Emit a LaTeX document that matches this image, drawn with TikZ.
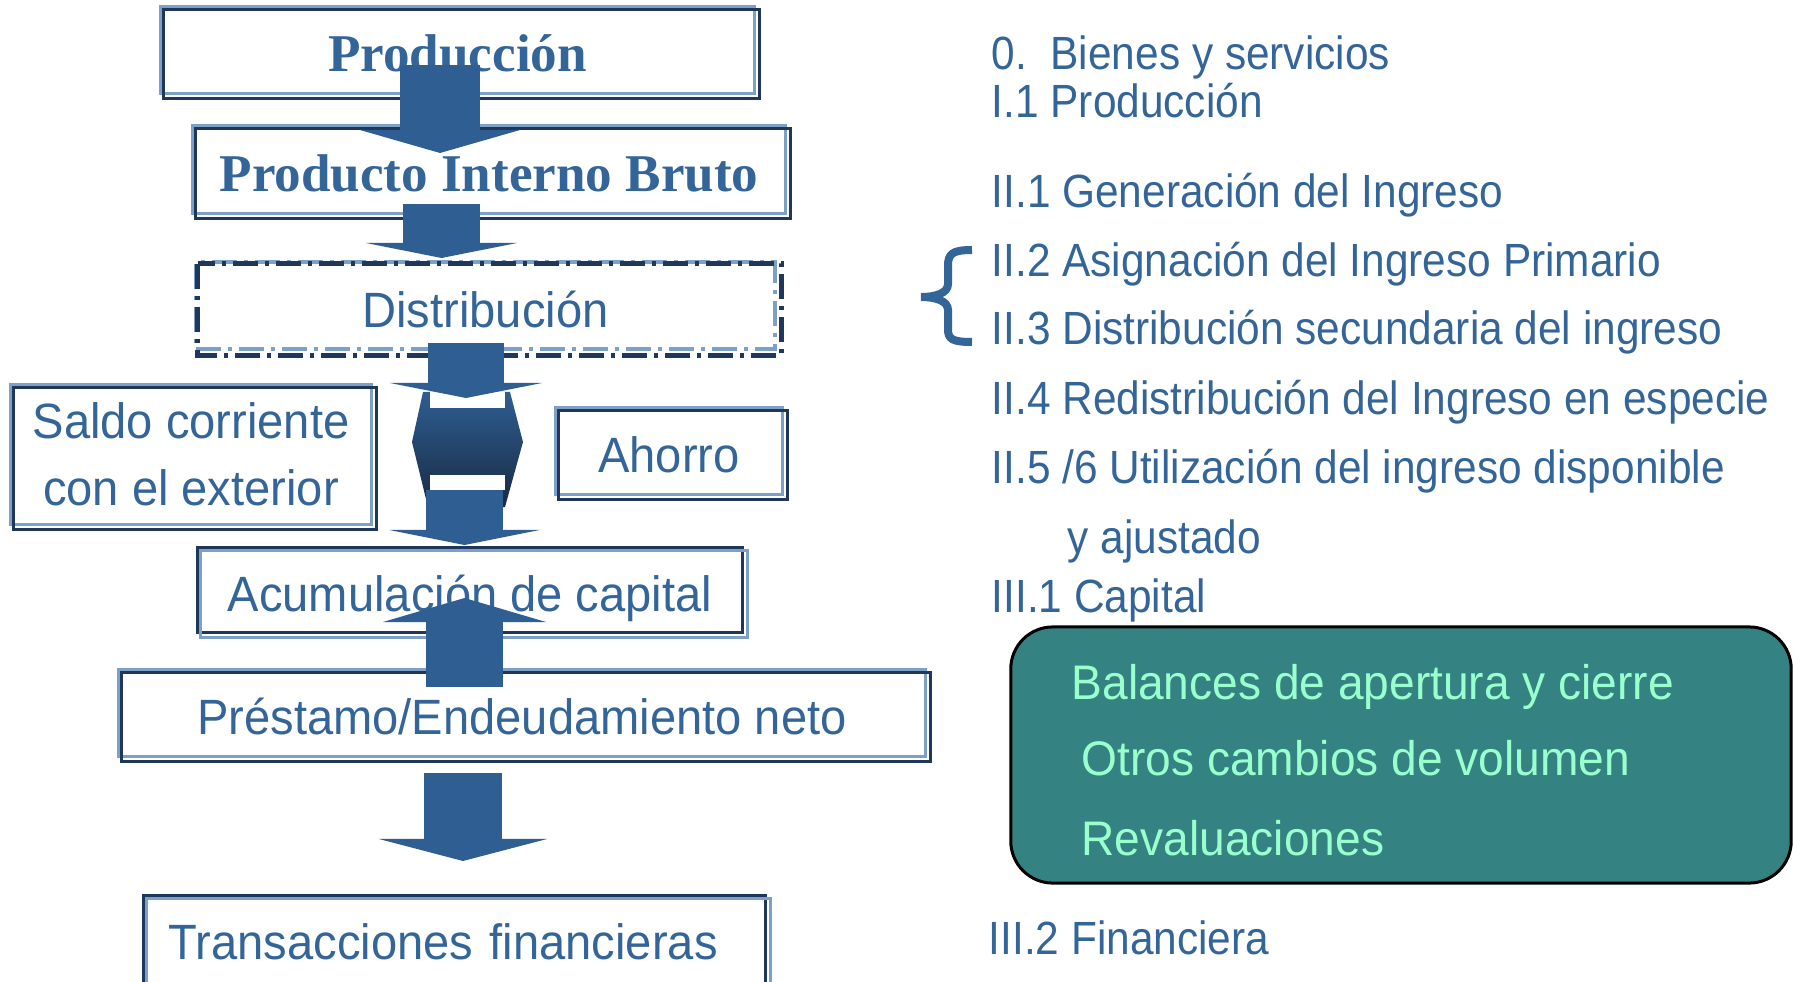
\documentclass[tikz,border=0pt]{standalone}
\usepackage{fontspec}
\setmainfont{Liberation Serif}
\newfontfamily\narrow[FakeStretch=0.95]{Liberation Sans}
\newfontfamily\narrowlist[FakeStretch=0.91]{Liberation Sans}
\usetikzlibrary{arrows.meta}
\definecolor{txtblue}{RGB}{52,101,153}
\definecolor{boxlight}{RGB}{125,160,200}
\definecolor{boxdark}{RGB}{30,55,90}
\definecolor{arrowblue}{RGB}{46,94,146}
\definecolor{hexdark}{RGB}{25,42,66}
\definecolor{tealfill}{RGB}{53,130,130}
\definecolor{mint}{RGB}{153,255,204}
\tikzset{
  box/.style     = {draw=boxlight, line width=0.03cm, fill=white, text=txtblue, inner sep=0pt},
  boxr/.style    = {box, draw=boxdark},
  rim/.style     = {draw=#1, line width=0.025cm},
  dashes/.style  = {line width=0.045cm, dash pattern=on 0.25cm off 0.07cm on 0.04cm off 0.07cm},
  dashbox/.style = {box, dashes},
  ttl/.style     = {font=\fontsize{15.1}{18}\selectfont\bfseries, text height=12.3pt, text depth=0pt},
  lbl/.style     = {font=\narrow\fontsize{14.1}{19}\selectfont, text height=12.3pt, text depth=0pt},
  lst/.style     = {anchor=base west, text=txtblue, inner sep=0pt, font=\narrowlist\fontsize{13.25}{16}\selectfont},
  bal/.style     = {anchor=base west, text=mint, inner sep=0pt, font=\narrow\fontsize{13.8}{17}\selectfont},
  flow/.style n args = {3}{draw=arrowblue, line width=#1,
                 -{Triangle[width=#2, length=#3, line width=0pt]}}
}
\begin{document}
\begin{tikzpicture}[x=0.01cm,y=-0.01cm]
  \useasboundingbox (0,0) rectangle (1793,982);

  \node[box, ttl, minimum width=5.93cm, minimum height=0.86cm] (prod) at (457.5,50) {Producción};
  \node[box, ttl, minimum width=5.92cm, minimum height=0.87cm] (pib) at (489,169.5) {Producto Interno Bruto};
  \node[dashbox, lbl, minimum width=5.79cm, minimum height=0.87cm] (dist) at (485.5,305.5) {Distribución};
  \node[box, font=\narrow\fontsize{14.1}{19}\selectfont, align=center,
        minimum width=3.6cm, minimum height=1.39cm] (saldo) at (191,454.5) {Saldo corriente\\ con el exterior};
  \node[box, lbl, minimum width=2.26cm, minimum height=0.86cm] (ahorro) at (669,451) {Ahorro};
  \node[boxr, lbl, minimum width=5.44cm, minimum height=0.84cm] (acum) at (470,590) {Acumulación de capital};
  \node[box, lbl, minimum width=8.06cm, minimum height=0.86cm] (prest) at (522,713) {Préstamo/Endeudamiento neto};
  \node[boxr, lbl, text depth=7.6pt, text width=5.71cm, align=left,
        minimum width=6.21cm, minimum height=1.1cm] (trans) at (454.5,951) {Transacciones financieras};

  \foreach \bx in {prod,pib,saldo,ahorro,prest}
    \draw[rim=boxdark] ([shift={(4,4)}]\bx.north west) rectangle ([shift={(4,4)}]\bx.south east);
  \foreach \bx in {acum,trans}
    \draw[rim=boxlight] ([shift={(4,4)}]\bx.north west) rectangle ([shift={(4,4)}]\bx.south east);
  \draw[rim=boxdark, dashes] ([shift={(4,4)}]dist.north west) rectangle ([shift={(4,4)}]dist.south east);

  \shade[top color=arrowblue, bottom color=hexdark]
    (423,392) -- (510,392) -- (523,442) -- (505,507) -- (428,507) -- (412,442) -- cycle;
  \fill[white] (430,392) rectangle (505,408);
  \fill[white] (430,475) rectangle (505,490);

  \coordinate (f1a) at (440,65);    \coordinate (f1b) at (440,153);
  \coordinate (f2a) at (441.5,204); \coordinate (f2b) at (441.5,258);
  \coordinate (f3a) at (466,343);   \coordinate (f3b) at (466,398);
  \coordinate (f4a) at (464.5,490); \coordinate (f4b) at (464.5,545);
  \coordinate (f5a) at (464.5,687); \coordinate (f5b) at (464.5,598);
  \coordinate (f6a) at (463,773);   \coordinate (f6b) at (463,861);
  \draw[flow={0.79cm}{1.6cm}{0.23cm}]  (f1a) -- (f1b);
  \draw[flow={0.77cm}{1.51cm}{0.15cm}] (f2a) -- (f2b);
  \draw[flow={0.76cm}{1.52cm}{0.15cm}] (f3a) -- (f3b);
  \draw[flow={0.77cm}{1.5cm}{0.15cm}]  (f4a) -- (f4b);
  \draw[flow={0.77cm}{1.63cm}{0.24cm}] (f5a) -- (f5b);
  \draw[flow={0.78cm}{1.68cm}{0.22cm}] (f6a) -- (f6b);

  \node[lst] (l0) at (991,70)   {0.~~Bienes y servicios};
  \node[lst] (l1) at (991,118)  {I.1 Producción};
  \node[lst] (l2) at (991,208)  {II.1 Generación del Ingreso};
  \node[lst] (l3) at (991,277)  {II.2 Asignación del Ingreso Primario};
  \node[lst] (l4) at (991,345)  {II.3 Distribución secundaria del ingreso};
  \node[lst] (l5) at (991,415)  {II.4 Redistribución del Ingreso en especie};
  \node[lst] (l6) at (991,484)  {II.5 /6 Utilización del ingreso disponible};
  \node[lst] (l7) at (1067,553) {y ajustado};
  \node[lst] (l8) at (991,612)  {III.1 Capital};
  \node[lst] (l9) at (988,954)  {III.2 Financiera};

  \draw[txtblue, line width=0.08cm] (972,250) .. controls (952,250) and (948,254) .. (948,266)
    -- (948,284) .. controls (948,293) and (936,297) .. (921,297)
    .. controls (936,297) and (948,301) .. (948,310)
    -- (948,329) .. controls (948,339) and (952,342) .. (972,342);

  \node[draw=black, line width=0.03cm, fill=tealfill, rounded corners=0.42cm,
        minimum width=7.8cm, minimum height=2.56cm] (teal) at (1401,755) {};
  \node[bal] (b1) at (1071,699) {Balances de apertura y cierre};
  \node[bal] (b2) at (1081,775) {Otros cambios de volumen};
  \node[bal] (b3) at (1081,855) {Revaluaciones};
\end{tikzpicture}
\end{document}
